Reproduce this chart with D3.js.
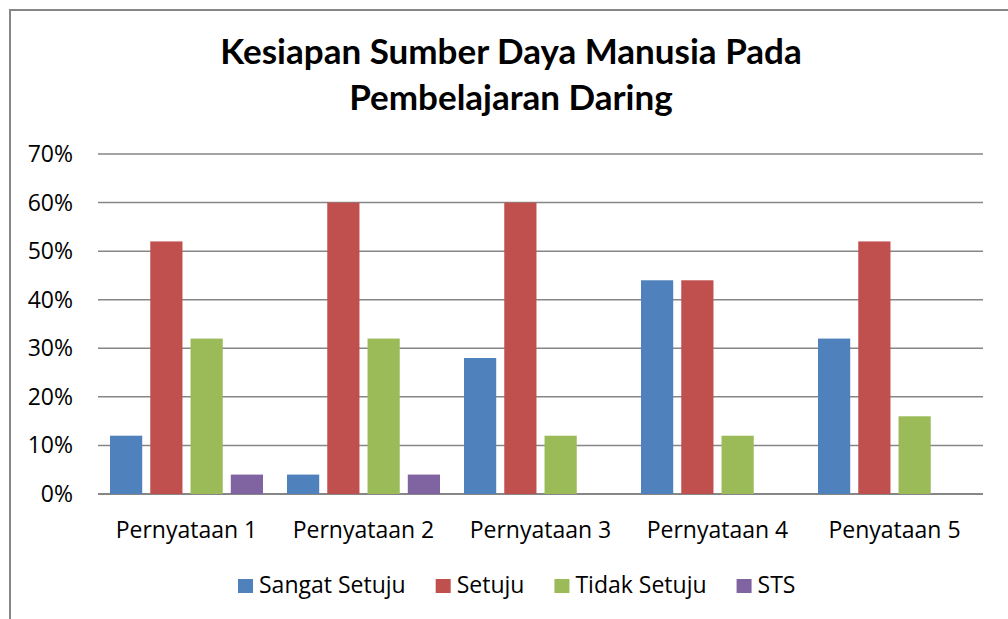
<!DOCTYPE html>
<html>
<head>
<meta charset="utf-8">
<script src="https://cdn.jsdelivr.net/npm/d3@7"></script>
<style>
  body { margin: 0; background: #fff; }
  svg { display: block; font-family: "Open Sans", sans-serif; }
</style>
</head>
<body>
<svg id="chart" width="1008" height="619"></svg>
<script>
// data
var categories = ['Pernyataan 1', 'Pernyataan 2', 'Pernyataan 3', 'Pernyataan 4', 'Penyataan 5'];
var seriesNames = ['Sangat Setuju', 'Setuju', 'Tidak Setuju', 'STS'];
var sangatSetuju = [0.12, 0.04, 0.28, 0.44, 0.32];
var setuju = [0.52, 0.60, 0.60, 0.44, 0.52];
var tidakSetuju = [0.32, 0.32, 0.12, 0.12, 0.16];
var sts = [0.04, 0.04, 0, 0, 0];
var yTicks = [0, 0.1, 0.2, 0.3, 0.4, 0.5, 0.6, 0.7];
var colors = ['#4F81BD', '#C0504D', '#9BBB59', '#8064A2'];

var seriesValues = [sangatSetuju, setuju, tidakSetuju, sts];

var svg = d3.select('#chart');

// chart border (cut off on right/bottom like the screenshot)
svg.append('rect')
  .attr('x', 10).attr('y', 10)
  .attr('width', 1100).attr('height', 700)
  .attr('fill', 'none')
  .attr('stroke', '#868686')
  .attr('stroke-width', 2);

var plotLeft = 98, plotRight = 983, plotTop = 154, plotBottom = 494;

var x = d3.scaleBand()
  .domain(categories)
  .range([plotLeft, plotRight])
  .paddingInner(0).paddingOuter(0);

var x1 = d3.scaleBand()
  .domain(seriesNames)
  .range([12, x.bandwidth() - 12])
  .paddingInner(0.2);

var y = d3.scaleLinear()
  .domain([0, 0.7])
  .range([plotBottom, plotTop]);

// gridlines
svg.append('g')
  .selectAll('line')
  .data(yTicks)
  .enter().append('line')
  .attr('x1', plotLeft).attr('x2', plotRight)
  .attr('y1', d => y(d)).attr('y2', d => y(d))
  .attr('stroke', '#868686')
  .attr('stroke-width', d => d === 0 ? 2 : 1.5);

// y labels
svg.append('g')
  .selectAll('text')
  .data(yTicks)
  .enter().append('text')
  .attr('x', 73)
  .attr('y', d => y(d) + 8)
  .attr('text-anchor', 'end')
  .attr('font-size', 23)
  .attr('fill', '#000')
  .text(d3.format('.0%'));

// bars
var group = svg.append('g')
  .selectAll('g')
  .data(categories)
  .enter().append('g')
  .attr('transform', d => 'translate(' + x(d) + ',0)');

group.selectAll('rect')
  .data((d, i) => seriesNames.map((s, j) => ({ s: s, v: seriesValues[j][i], c: colors[j] })))
  .enter().append('rect')
  .filter(d => d.v > 0)
  .attr('x', d => x1(d.s))
  .attr('width', x1.bandwidth())
  .attr('y', d => y(d.v))
  .attr('height', d => plotBottom - y(d.v))
  .attr('fill', d => d.c);

// category labels
svg.append('g')
  .selectAll('text')
  .data(categories)
  .enter().append('text')
  .attr('x', d => x(d) + x.bandwidth() / 2)
  .attr('y', 538)
  .attr('text-anchor', 'middle')
  .attr('font-size', 23)
  .text(d => d);

// title
var title = svg.append('text')
  .attr('text-anchor', 'middle')
  .attr('font-family', 'Lato, sans-serif')
  .attr('font-size', 35)
  .attr('font-weight', 'bold');
title.append('tspan').attr('x', 511).attr('y', 64).text('Kesiapan Sumber Daya Manusia Pada');
title.append('tspan').attr('x', 511).attr('y', 110).text('Pembelajaran Daring');

// legend
var legend = svg.append('g');
var lx = 238;
seriesNames.forEach(function(name, i) {
  legend.append('rect')
    .attr('x', lx).attr('y', 579)
    .attr('width', 15).attr('height', 14)
    .attr('fill', colors[i]);
  var t = legend.append('text')
    .attr('x', lx + 21).attr('y', 593)
    .attr('font-size', 23)
    .text(name);
  lx += 21 + t.node().getComputedTextLength() + 30;
});
</script>
</body>
</html>
